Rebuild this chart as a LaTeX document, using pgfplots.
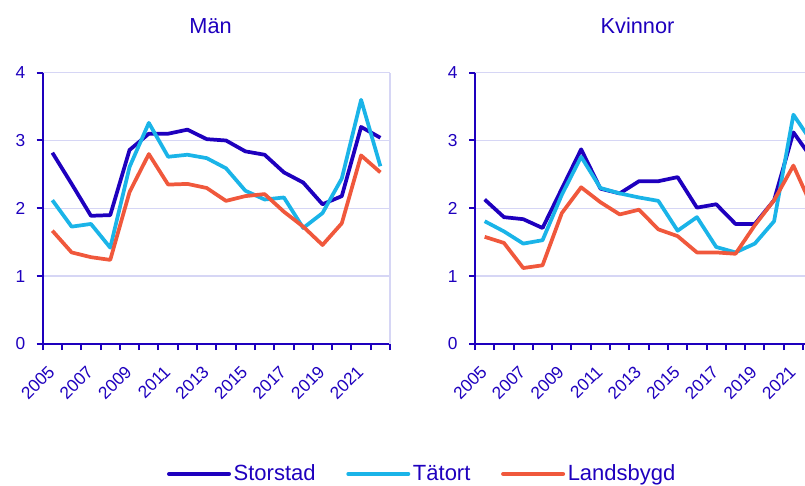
\documentclass[border=0pt]{standalone}
\usepackage{pgfplots}
\usepackage{pgfplotstable}
\pgfplotsset{compat=1.18}
\usepackage{fontspec}
\setmainfont{Liberation Sans}
\definecolor{sc}{HTML}{1E00BE}
\definecolor{tat}{HTML}{1AB4E8}
\definecolor{lan}{HTML}{F0583C}
\definecolor{gridc}{HTML}{D6D6F5}

\pgfplotstableread{
year sto tat lan
2005 2.82 2.12 1.67
2006 2.36 1.73 1.35
2007 1.89 1.77 1.28
2008 1.90 1.42 1.24
2009 2.86 2.61 2.24
2010 3.10 3.26 2.80
2011 3.10 2.76 2.35
2012 3.16 2.79 2.36
2013 3.02 2.74 2.30
2014 3.00 2.59 2.11
2015 2.84 2.26 2.18
2016 2.79 2.13 2.21
2017 2.53 2.16 1.95
2018 2.38 1.71 1.73
2019 2.06 1.93 1.46
2020 2.18 2.44 1.78
2021 3.20 3.60 2.78
2022 3.04 2.62 2.53
}\men

\pgfplotstableread{
year sto tat lan
2005 2.13 1.81 1.58
2006 1.87 1.66 1.49
2007 1.84 1.48 1.12
2008 1.71 1.53 1.16
2009 2.29 2.20 1.93
2010 2.87 2.76 2.31
2011 2.29 2.30 2.09
2012 2.22 2.22 1.91
2013 2.40 2.16 1.98
2014 2.40 2.11 1.69
2015 2.46 1.67 1.59
2016 2.01 1.87 1.35
2017 2.06 1.43 1.35
2018 1.77 1.35 1.33
2019 1.77 1.48 1.75
2020 2.12 1.81 2.12
2021 3.12 3.38 2.63
2022 2.72 2.96 2.00
}\women

\pgfplotsset{
  panel/.style={
    scale only axis, width=260.5pt, height=203.5pt,
    anchor=south west,
    xmin=2004.5, xmax=2022.5, ymin=0, ymax=4,
    axis x line=bottom, axis y line=left,
    axis line style={sc, line width=1.5pt, -},
    tick align=outside,
    xtick={2005,2007,...,2021},
    major x tick style={draw=none},
    minor xtick={2004.5,2005.5,...,2022.5},
    minor tick length=4.5pt,
    minor x tick style={sc, line width=1.5pt},
    ytick={0,1,2,3,4},
    major tick length=4.5pt,
    major y tick style={sc, line width=1.5pt},
    ymajorgrids, grid style={gridc, line width=1.2pt},
    /pgf/number format/assume math mode=true,
    /pgf/number format/1000 sep={},
    ticklabel style={font=\fontsize{13}{15}\selectfont, text=sc},
    xticklabel style={xshift=-4pt, yshift=-6pt, rotate=45, anchor=north east},
    yticklabel style={xshift=-5pt},
    title style={font=\fontsize{16.3}{19}\selectfont, text=sc, anchor=center, yshift=0pt},
    clip=false,
  },
  every axis plot/.append style={line width=2.8pt, line join=round, no marks},
}

\begin{document}
\begin{tikzpicture}
\path[use as bounding box, clip] (0,0) rectangle (603.75pt,363.75pt);

\begin{axis}[panel, at={(32.03pt,105.75pt)},
  title={Män}, title style={at={(0.4834,1.1425)}},
  legend columns=3,
  legend style={at={(1.0936,-0.479)}, anchor=center, draw=none, fill=none,
    font=\fontsize{16.5}{19}\selectfont, text=sc,
    /tikz/every even column/.append style={column sep=21pt},
    /tikz/every odd column/.append style={column sep=0pt},
    inner sep=0pt, nodes={inner sep=2pt}},
  legend image code/.code={\draw[#1, line width=3pt, line cap=round] (0pt,0pt) -- (45pt,0pt);},
]
\draw[gridc, line width=1.2pt] (axis cs:2022.5,0) -- (axis cs:2022.5,4);
\addplot[sc] table[x=year, y=sto] {\men};
\addlegendentry{Storstad}
\addplot[tat] table[x=year, y=tat] {\men};
\addlegendentry{Tätort}
\addplot[lan] table[x=year, y=lan] {\men};
\addlegendentry{Landsbygd}
\end{axis}

\begin{axis}[panel, at={(356.25pt,105.75pt)},
  title={Kvinnor}, title style={at={(0.468,1.1425)}},
]
\addplot[sc] table[x=year, y=sto] {\women};
\addplot[tat] table[x=year, y=tat] {\women};
\addplot[lan] table[x=year, y=lan] {\women};
\end{axis}
\end{tikzpicture}
\end{document}
